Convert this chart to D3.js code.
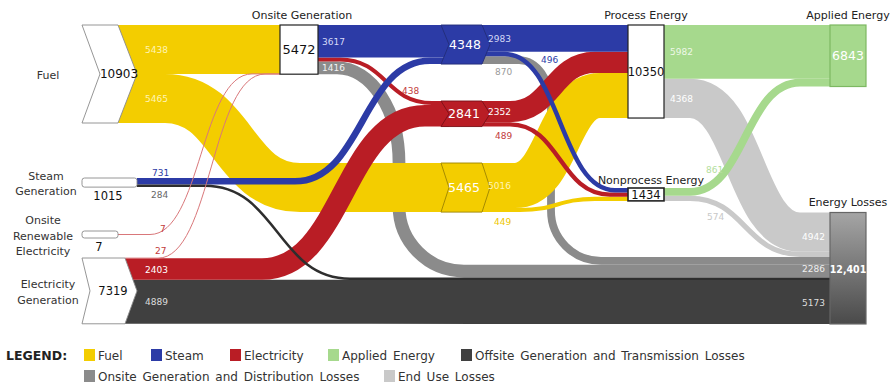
<!DOCTYPE html>
<html><head><meta charset="utf-8">
<script src="https://cdn.jsdelivr.net/npm/d3@7"></script>
<style>body{margin:0;background:#fff}svg{display:block}text{font-family:"DejaVu Sans",Verdana,sans-serif}</style>
</head><body><svg id="chart" width="893" height="387"></svg>
<script>
// ---------------- DATA ----------------
const nodeIds = ["fuel","steamGen","renew","elecGen","onsite","steam","elec","fuelOn","process","nonprocess","applied","losses"];
const nodeValues = [10903,1015,7,7319,5472,4348,2841,5465,10350,1434,6843,12401];
const nodeTitles = [["Fuel"],["Steam","Generation"],["Onsite","Renewable","Electricity"],["Electricity","Generation"],["Onsite Generation"],[],[],[],["Process Energy"],["Nonprocess Energy"],["Applied Energy"],["Energy Losses"]];
const flowSource = ["fuel","fuel","renew","elecGen","onsite","steamGen","onsite","elecGen","steam","steam","elec","elec","fuelOn","fuelOn","process","nonprocess","process","nonprocess","steam","onsite","steamGen","elecGen"];
const flowTarget = ["onsite","fuelOn","onsite","onsite","steam","steam","elec","elec","process","nonprocess","process","nonprocess","process","nonprocess","applied","applied","losses","losses","losses","losses","losses","losses"];
const flowValue  = [5438,5465,7,27,3617,731,438,2403,2983,496,2352,489,5016,449,5982,861,4368,574,870,1416,284,4889];
const flowType   = ["fuel","fuel","elec","elec","steam","steam","elec","elec","steam","steam","elec","elec","fuel","fuel","applied","applied","enduse","enduse","onsiteLoss","onsiteLoss","offsite","offsite"];
const legendKeys   = ["fuel","steam","elec","applied","offsite","onsiteLoss","enduse"];
const legendLabels = ["Fuel","Steam","Electricity","Applied Energy","Offsite Generation and Transmission Losses","Onsite Generation and Distribution Losses","End Use Losses"];

// ---------------- STYLE / LAYOUT ----------------
const color = {fuel:"#f3cd00",steam:"#2c3ba6",elec:"#b91d25",applied:"#a6d98d",offsite:"#404040",onsiteLoss:"#8b8b8b",enduse:"#c9c9c9"};
const layout = {
  fuel:{x0:82,x1:118,y0:25,shape:"chev",notch:18,point:19,fill:"#fff",stroke:"#8a8a8a",vx:119,fs:12,labelDx:27,tx:48},
  steamGen:{x0:82,x1:137,y0:178,shape:"bar",vx:108,fs:11.5,labelDx:8,tx:46},
  renew:{x0:82,x1:118,y0:231,shape:"bar",minH:7,vx:99,fs:11.5,tx:43},
  elecGen:{x0:82,x1:125,y0:258,shape:"chev",notch:8,point:12,fill:"#fff",stroke:"#8a8a8a",vx:113,fs:11.5,labelDx:20,tx:48},
  onsite:{x0:280,x1:318,y0:25,shape:"box",fill:"#fff",stroke:"#222",vx:299,fs:13,labelDx:4,tdx:3},
  steam:{x0:441,x1:482,y0:25,shape:"chev",notch:8,point:8,fill:color.steam,stroke:"#222c78",vx:465,fs:12.5,vc:"#fff",labelDx:6},
  elec:{x0:441,x1:482,y0:101,shape:"chev",notch:8,point:8,fill:color.elec,stroke:"#7a1016",vx:464,fs:12.5,vc:"#fff",labelDx:6},
  fuelOn:{x0:441,x1:482,y0:163,shape:"chev",notch:8,point:8,fill:color.fuel,stroke:"#9c8300",vx:464,fs:12.5,vc:"#fff",labelDx:6},
  process:{x0:628,x1:664,y0:25,shape:"box",fill:"#fff",stroke:"#222",vx:646,fs:11.5,labelDx:6},
  nonprocess:{x0:628,x1:664,y0:188,shape:"box",fill:"#fff",stroke:"#222",sw:1.6,vx:646,fs:11.5,labelDx:6,tdx:5,tdy:2},
  applied:{x0:830,x1:866,y0:25,shape:"box",fill:color.applied,stroke:"#7db862",vx:848,fs:12.5,vc:"#fff"},
  losses:{x0:830,x1:866,y0:212.5,shape:"box",fill:"url(#lossGrad)",stroke:"#666",vx:848,fs:10.5,vc:"#fff",bold:true,cond:true}
};
const routes = {
  "fuel>fuelOn":{xa:165,xb:300},
  "renew>onsite":{xa:150,xb:252},
  "elecGen>onsite":{xa:158,xb:265},
  "steamGen>steam":{xa:295,xb:430},
  "onsite>elec":{xa:340,xb:432},
  "elecGen>elec":{xa:262,xb:425},
  "steam>nonprocess":{xa:505,xb:615},
  "elec>process":{xa:510,xb:595},
  "elec>nonprocess":{xa:510,xb:610},
  "fuelOn>process":{xa:515,xb:600},
  "fuelOn>nonprocess":{xa:520,xb:595},
  "nonprocess>applied":{xa:690,xb:800},
  "process>losses":{xa:690,xb:800},
  "nonprocess>losses":{xa:690,xb:800},
  "steam>losses":{elbow:true,xv:551,rx1:32,ry1:45,rx2:50,ry2:50},
  "onsite>losses":{elbow:true,xv:399,rx1:62,ry1:95,rx2:65,ry2:65},
  "steamGen>losses":{xa:205,xb:350}
};
const drawOrder = ["onsite>losses","steam>losses","process>losses","nonprocess>losses","elecGen>losses",
  "fuel>onsite","fuel>fuelOn","fuelOn>process","fuelOn>nonprocess",
  "onsite>elec","elecGen>elec","elec>process","elec>nonprocess",
  "onsite>steam","steamGen>steam","steam>process","steam>nonprocess",
  "steamGen>losses","renew>onsite","elecGen>onsite","process>applied","nonprocess>applied"];
const labelOverride = {
  "steamGen>steam":[152,176,"#2c3ba6"], "steamGen>losses":[151,198,"#666"],
  "renew>onsite":[160,232,"#c23b3b"], "elecGen>onsite":[155,254,"#c23b3b"],
  "onsite>elec":[402,94,"#c23b3b"], "steam>losses":[495,75,"#9a9a9a"],
  "steam>nonprocess":[541,63,"#2c3ba6"], "elec>nonprocess":[495,139,"#c23b3b"],
  "fuelOn>nonprocess":[494,225,"#eec600"], "nonprocess>applied":[706,173,"#b3de9c"],
  "nonprocess>losses":[707,220,"#c8c8c8"]
};
const onBandColor = {fuel:"#fff4b5",steam:"#d5d9f7",elec:"#fff",applied:"#eef8e8",enduse:"#fff",onsiteLoss:"#f2f2f2",offsite:"#ddd"};
const lossLabelColor = {enduse:"#fff",onsiteLoss:"#eee",offsite:"#ddd"};

// ---------------- BUILD ----------------
const svg = d3.select("#chart");
const grad = svg.append("defs").append("linearGradient").attr("id","lossGrad").attr("x1",0).attr("y1",0).attr("x2",0).attr("y2",1);
grad.append("stop").attr("offset","0%").attr("stop-color","#a5a5a5");
grad.append("stop").attr("offset","100%").attr("stop-color","#4a4a4a");

const w = d3.scaleLinear().domain([0,10903]).range([0,98]);
const nodes = new Map(nodeIds.map((id,i)=>[id,Object.assign({id,value:nodeValues[i],titles:nodeTitles[i]},layout[id])]));
nodes.forEach(n=>{n.h=w(n.value); n.boxH=Math.max(n.h,n.minH||0); n.y1=n.y0+n.boxH; n.ym=(n.y0+n.y1)/2;});
const links = flowValue.map((v,i)=>({source:nodes.get(flowSource[i]),target:nodes.get(flowTarget[i]),value:v,type:flowType[i],w:w(v),key:flowSource[i]+">"+flowTarget[i]}));
nodes.forEach(n=>{
  const outs=links.filter(l=>l.source===n), ins=links.filter(l=>l.target===n);
  let y=n.y0+Math.max(0,(n.boxH-d3.sum(outs,l=>l.w))/2);
  outs.forEach(l=>{l.ys=y+l.w/2; y+=l.w;});
  y=n.y0+Math.max(0,(n.boxH-d3.sum(ins,l=>l.w))/2);
  ins.forEach(l=>{l.yt=y+l.w/2; y+=l.w;});
});
const K=0.5523;
function linkPath(l){
  const x0=l.source.x1, x1=l.target.x0+(l.target.notch||0), ys=l.ys, yt=l.yt, r=routes[l.key];
  const p=d3.path(); p.moveTo(x0,ys);
  if(r&&r.elbow){
    const s=Math.sign(yt-ys);
    p.lineTo(r.xv-r.rx1,ys);
    p.bezierCurveTo(r.xv-r.rx1*(1-K),ys, r.xv,ys+s*r.ry1*(1-K), r.xv,ys+s*r.ry1);
    p.lineTo(r.xv,yt-s*r.ry2);
    p.bezierCurveTo(r.xv,yt-s*r.ry2*(1-K), r.xv+r.rx2*(1-K),yt, r.xv+r.rx2,yt);
    p.lineTo(x1,yt);
  } else {
    const xa=r?r.xa:x0+(x1-x0)*0.35, xb=r?r.xb:x0+(x1-x0)*0.65, dx=(xb-xa)*0.5;
    p.lineTo(xa,ys); p.bezierCurveTo(xa+dx,ys, xb-dx,yt, xb,yt); p.lineTo(x1,yt);
  }
  return p.toString();
}
const byKey = new Map(links.map(l=>[l.key,l]));
svg.append("g").attr("fill","none").selectAll("path")
  .data(drawOrder.map(k=>byKey.get(k))).join("path")
  .attr("d",linkPath)
  .attr("stroke",l=>l.w<1?"#d9777a":(l.key==="steamGen>losses"?"#2e2e2e":color[l.type]))
  .attr("stroke-width",l=>Math.max(l.w,1));

// nodes
const ng = svg.append("g");
nodes.forEach(n=>{
  if(n.shape==="chev"){
    const pts=[[n.x0,n.y0],[n.x1,n.y0],[n.x1+n.point,n.ym],[n.x1,n.y1],[n.x0,n.y1],[n.x0+n.notch,n.ym]];
    ng.append("polygon").attr("points",pts.join(" ")).attr("fill",n.fill).attr("stroke",n.stroke).attr("stroke-width",0.9).attr("stroke-linejoin","miter");
  } else if(n.shape==="bar"){
    ng.append("rect").attr("x",n.x0).attr("y",n.y0).attr("width",n.x1-n.x0).attr("height",n.boxH).attr("rx",2.5)
      .attr("fill","#fff").attr("stroke","#8a8a8a").attr("stroke-width",0.9);
  } else {
    ng.append("rect").attr("x",n.x0).attr("y",n.y0).attr("width",n.x1-n.x0).attr("height",n.boxH)
      .attr("fill",n.fill).attr("stroke",n.stroke).attr("stroke-width",n.sw||1.2);
  }
  const fmt = n.id==="losses"?d3.format(","):d3.format("d");
  ng.append("text").attr("x",n.vx).attr("y",n.shape==="bar"?n.y1+12.5:n.ym+4.3)
    .attr("text-anchor","middle").attr("font-size",n.fs).attr("fill",n.vc||"#111")
    .attr("font-weight",n.bold?"bold":null)
    .style("font-family",n.cond?"'DejaVu Sans Condensed','DejaVu Sans',sans-serif":null)
    .text(fmt(n.value));
  if(n.titles.length){
    if(n.tx!==undefined){
      const m=n.titles.length;
      n.titles.forEach((t,i)=>ng.append("text").attr("x",n.tx).attr("y",n.ym+5+(i-(m-1)/2)*15.5)
        .attr("text-anchor","middle").attr("font-size",11).attr("fill","#333").text(t));
    } else {
      ng.append("text").attr("x",(n.x0+n.x1)/2+(n.tdx||0)).attr("y",n.y0-6.5+(n.tdy||0))
        .attr("text-anchor","middle").attr("font-size",11).attr("fill","#222").text(n.titles[0]);
    }
  }
});

// link labels
const lg = svg.append("g").attr("font-size",9);
links.forEach(l=>{
  const o=labelOverride[l.key];
  if(o){ lg.append("text").attr("x",o[0]).attr("y",o[1]).attr("fill",o[2]).text(l.value); return; }
  if(l.source.labelDx===undefined) return;
  lg.append("text").attr("x",l.source.x1+l.source.labelDx).attr("y",l.ys+3.5).attr("fill",onBandColor[l.type]).text(l.value);
});
// loss group labels
const losses = nodes.get("losses");
const groups = d3.rollups(links.filter(l=>l.target===losses),v=>({sum:d3.sum(v,d=>d.value),y0:d3.min(v,d=>d.yt-d.w/2),y1:d3.max(v,d=>d.yt+d.w/2)}),d=>d.type);
groups.forEach(([type,g])=>{
  lg.append("text").attr("x",losses.x0-5).attr("y",(g.y0+g.y1)/2+5).attr("text-anchor","end")
    .attr("fill",lossLabelColor[type]).text(g.sum);
});

// legend
const legendX=[84,151,230,328,461,84,384], legendRow=[0,0,0,0,0,1,1];
const leg = svg.append("g");
leg.append("text").attr("x",6).attr("y",359.5).attr("font-size",12.5).attr("font-weight","bold").attr("fill","#222").text("LEGEND:");
legendKeys.forEach((k,i)=>{
  const y=349+legendRow[i]*21;
  leg.append("rect").attr("x",legendX[i]).attr("y",y).attr("width",11).attr("height",12).attr("fill",color[k]);
  leg.append("text").attr("x",legendX[i]+14).attr("y",y+10.5).attr("font-size",12).attr("word-spacing",2).attr("fill","#333").text(legendLabels[i]);
});
</script></body></html>
